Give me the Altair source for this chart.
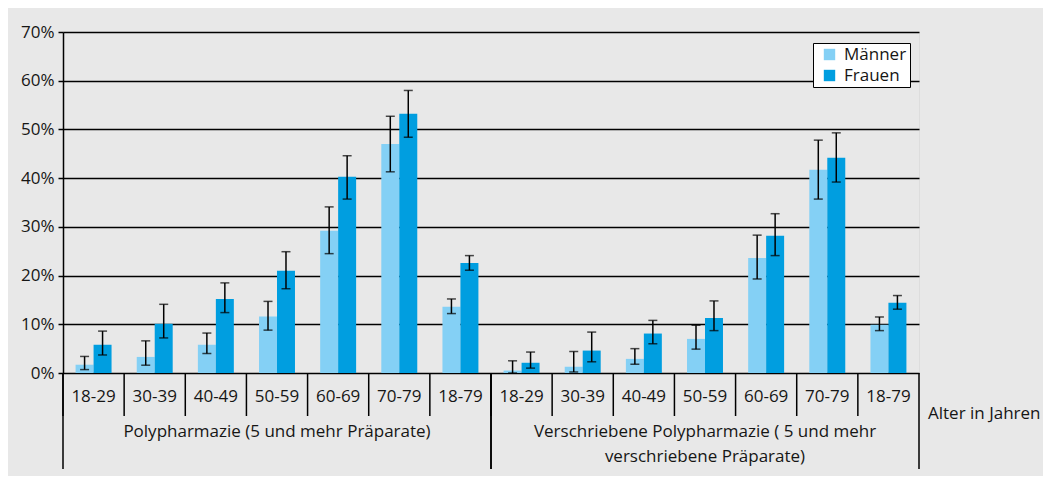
import altair as alt
import pandas as pd

# ---- data ----
groups = ["Polypharmazie (5 und mehr Präparate)",
          "Verschriebene Polypharmazie ( 5 und mehr\nverschriebene Präparate)"]
ages = ["18-29", "30-39", "40-49", "50-59", "60-69", "70-79", "18-79"]
genders = ["Männer", "Frauen"]

poly_m = [1.7, 3.3, 5.8, 11.6, 29.2, 47.0, 13.6]
poly_m_lo = [0.7, 1.6, 4.0, 8.8, 24.5, 41.3, 12.2]
poly_m_hi = [3.4, 6.6, 8.2, 14.7, 34.1, 52.7, 15.2]
poly_f = [5.8, 10.1, 15.2, 21.0, 40.3, 53.2, 22.6]
poly_f_lo = [3.7, 7.2, 12.4, 17.3, 35.7, 48.4, 21.1]
poly_f_hi = [8.6, 14.1, 18.5, 24.9, 44.6, 58.0, 24.1]

presc_m = [0.5, 1.3, 2.9, 7.0, 23.6, 41.7, 9.9]
presc_m_lo = [0.0, 0.2, 1.8, 4.9, 19.3, 35.7, 8.7]
presc_m_hi = [2.5, 4.4, 5.0, 9.8, 28.3, 47.8, 11.5]
presc_f = [2.1, 4.6, 8.1, 11.3, 28.2, 44.2, 14.4]
presc_f_lo = [1.0, 2.3, 6.0, 8.7, 24.1, 39.2, 13.1]
presc_f_hi = [4.3, 8.4, 10.8, 14.8, 32.7, 49.3, 15.9]

y_ticks = [0, 10, 20, 30, 40, 50, 60, 70]
x_title = "Alter in Jahren"

series = {
    (0, "Männer"): (poly_m, poly_m_lo, poly_m_hi),
    (0, "Frauen"): (poly_f, poly_f_lo, poly_f_hi),
    (1, "Männer"): (presc_m, presc_m_lo, presc_m_hi),
    (1, "Frauen"): (presc_f, presc_f_lo, presc_f_hi),
}

keys = [f"{gi}|{a}" for gi in range(len(groups)) for a in ages]

rows = []
for (gi, g), (v, lo, hi) in series.items():
    for i, a in enumerate(ages):
        rows.append({"key": f"{gi}|{a}", "age": a, "gender": g,
                     "value": v[i], "lo": lo[i], "hi": hi[i]})
df = pd.DataFrame(rows)

cats = pd.DataFrame([{"key": f"{gi}|{a}", "age": a, "gi": gi,
                      "first": i == 0, "mid": i == 3, "last": i == len(ages) - 1,
                      "glabel": groups[gi]}
                     for gi in range(len(groups)) for i, a in enumerate(ages)])

TXT = "#161615"
FONT = "Open Sans"
LIGHT = "#84d0f5"
DARK = "#009ee0"

xscale = alt.Scale(domain=keys, paddingInner=0, paddingOuter=0)
xoff = alt.XOffset("gender:N", sort=genders,
                   scale=alt.Scale(domain=genders, paddingInner=0, paddingOuter=0.7))
yscale = alt.Scale(domain=[0, 70], nice=False)

base = alt.Chart(df)

bars = base.mark_bar().encode(
    x=alt.X("key:N", scale=xscale, axis=None, sort=keys),
    xOffset=xoff,
    y=alt.Y("value:Q", scale=yscale, axis=alt.Axis(
        values=y_ticks, labelExpr="datum.value + '%'", title=None,
        grid=True, gridColor="black", gridWidth=1.5, gridOpacity=1,
        domain=True, domainColor="black", domainWidth=1.5,
        ticks=True, tickColor="black", tickSize=5, tickWidth=1.5,
        labelFontSize=17, labelColor=TXT, labelFont=FONT, labelPadding=4)),
    color=alt.Color("gender:N", sort=genders,
                    scale=alt.Scale(domain=genders, range=[LIGHT, DARK]),
                    legend=alt.Legend(title=None, orient="none", legendX=750, legendY=11,
                                      fillColor="white", strokeColor="black",
                                      padding=3, symbolType="square", symbolSize=130,
                                      symbolStrokeWidth=0, symbolOffset=5,
                                      labelFontSize=17, labelFont=FONT, labelColor=TXT,
                                      labelOffset=6, rowPadding=3)),
)

err = base.mark_rule(color="black", strokeWidth=1.5).encode(
    x=alt.X("key:N", scale=xscale, axis=None, sort=keys),
    xOffset=xoff,
    y=alt.Y("lo:Q", scale=yscale),
    y2="hi:Q",
)

caps = base.transform_fold(["lo", "hi"], as_=["end", "v"]).mark_tick(
    color="black", thickness=1.5, size=9, orient="horizontal").encode(
    x=alt.X("key:N", scale=xscale, axis=None, sort=keys),
    xOffset=xoff,
    y=alt.Y("v:Q", scale=yscale),
)

cbase = alt.Chart(cats)

seps = cbase.mark_rule(color="black", strokeWidth=1.5).encode(
    x=alt.X("key:N", scale=xscale, axis=None, sort=keys, bandPosition=0),
    y=alt.value(341),
    y2=alt.value(384),
)
seps_end = cbase.transform_filter("datum.last").mark_rule(color="black", strokeWidth=1.5).encode(
    x=alt.X("key:N", scale=xscale, axis=None, sort=keys, bandPosition=1),
    y=alt.value(341),
    y2=alt.value(437),
)
gseps = cbase.transform_filter("datum.first").mark_rule(color="black", strokeWidth=1.5).encode(
    x=alt.X("key:N", scale=xscale, axis=None, sort=keys, bandPosition=0),
    y=alt.value(341),
    y2=alt.value(437),
)

age_labels = cbase.mark_text(fontSize=17, font=FONT, color=TXT, baseline="middle").encode(
    x=alt.X("key:N", scale=xscale, axis=None, sort=keys, bandPosition=0.5),
    y=alt.value(365),
    text="age:N",
)

group_labels = cbase.transform_filter("datum.mid").mark_text(
    fontSize=17, font=FONT, color=TXT, baseline="top", align="center",
    lineBreak="\n", lineHeight=25).encode(
    x=alt.X("key:N", scale=xscale, axis=None, sort=keys, bandPosition=0.5),
    y=alt.value(392),
    text="glabel:N",
)

title_label = cbase.transform_filter("datum.last && datum.gi == 1").mark_text(
    fontSize=17, font=FONT, color=TXT, baseline="middle", align="left", dx=9).encode(
    x=alt.X("key:N", scale=xscale, axis=None, sort=keys, bandPosition=1),
    y=alt.value(382),
    text=alt.value(x_title),
)

chart = alt.layer(bars, err, caps, seps, seps_end, gseps, age_labels, group_labels, title_label).properties(
    width=856, height=341,
    autosize=alt.AutoSizeParams(type="none"),
    padding={"left": 55, "top": 24, "right": 124, "bottom": 103},
    background="#e8e8e8",
).configure_view(stroke=None).configure(font=FONT)

chart.save("out.html", embed_options={"renderer": "svg", "actions": False})
